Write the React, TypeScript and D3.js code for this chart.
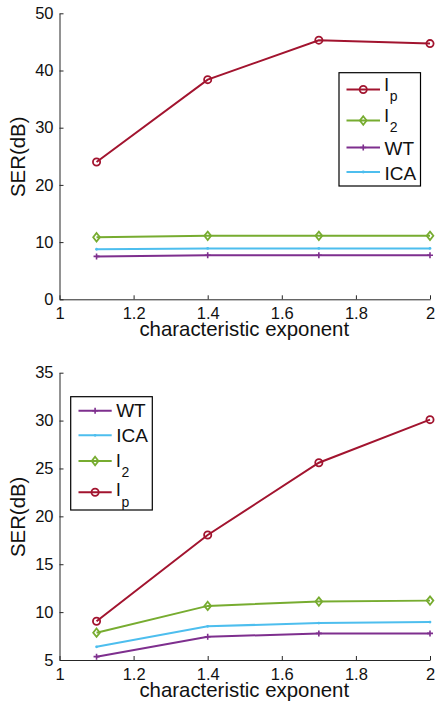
import React, { useRef, useEffect } from 'react';
import * as d3 from 'd3';

// characteristic exponent (x values)
const alphas = [1.1, 1.4, 1.7, 2];

// top panel
const topLp = [24.0, 38.4, 45.3, 44.7];
const topL2 = [10.85, 11.1, 11.1, 11.1];
const topWT = [7.5, 7.7, 7.7, 7.7];
const topICA = [8.75, 8.9, 8.9, 8.9];

// bottom panel
const botLp = [9.05, 18.05, 25.6, 30.1];
const botL2 = [7.85, 10.65, 11.1, 11.2];
const botWT = [5.35, 7.42, 7.78, 7.78];
const botICA = [6.38, 8.52, 8.86, 8.96];

const xTicks = [1, 1.2, 1.4, 1.6, 1.8, 2];
const topYTicks = [0, 10, 20, 30, 40, 50];
const botYTicks = [5, 10, 15, 20, 25, 30, 35];

const FONT = '"Liberation Sans", Arial, Helvetica, sans-serif';
const COLORS = { lp: '#a2142f', l2: '#77ac30', wt: '#7e2f8e', ica: '#4dbeee' };

type Series = { key: 'lp' | 'l2' | 'wt' | 'ica'; name: string; sub?: string; values: number[] };

function drawMarker(g, key, cx, cy) {
  const c = COLORS[key];
  if (key === 'lp') {
    g.append('circle').attr('cx', cx).attr('cy', cy).attr('r', 3.6)
      .attr('fill', 'none').attr('stroke', c).attr('stroke-width', 1.8);
  } else if (key === 'l2') {
    const s = 4.2;
    g.append('path')
      .attr('d', `M${cx},${cy - s}L${cx + s * 0.8},${cy}L${cx},${cy + s}L${cx - s * 0.8},${cy}Z`)
      .attr('fill', 'none').attr('stroke', c).attr('stroke-width', 1.8);
  } else if (key === 'wt') {
    const s = 3;
    g.append('path')
      .attr('d', `M${cx - s},${cy}H${cx + s}M${cx},${cy - s}V${cy + s}`)
      .attr('stroke', c).attr('stroke-width', 1.6);
  } else {
    g.append('circle').attr('cx', cx).attr('cy', cy).attr('r', 1.4).attr('fill', c);
  }
}

function drawPanel(svg, opts) {
  const { top, bottom, yDomain, yTicks, series, legend } = opts;
  const left = 59.5, right = 430;
  const x = d3.scaleLinear().domain([1, 2]).range([left, right]);
  const y = d3.scaleLinear().domain(yDomain).range([bottom, top]);

  const g = svg.append('g');

  const xAxis = g.append('g')
    .attr('transform', `translate(0,${bottom})`)
    .call(d3.axisBottom(x).tickValues(xTicks).tickSizeInner(-4).tickSizeOuter(0).tickPadding(7.8).tickFormat(d => String(d)));
  const yAxis = g.append('g')
    .attr('transform', `translate(${left},0)`)
    .call(d3.axisLeft(y).tickValues(yTicks).tickSizeInner(-4).tickSizeOuter(0).tickPadding(6).tickFormat(d => String(d)));

  [xAxis, yAxis].forEach(a => {
    a.select('.domain').attr('stroke', '#262626').attr('stroke-width', 1);
    a.selectAll('.tick line').attr('stroke', '#262626');
    a.selectAll('text').attr('font-family', FONT).attr('font-size', 16.5).attr('fill', '#111');
  });
  xAxis.selectAll('text').attr('dy', '0.72em');

  g.append('text')
    .attr('x', (left + right) / 2 - 0.5).attr('y', bottom + 36.5)
    .attr('text-anchor', 'middle').attr('font-family', FONT).attr('font-size', 20.4).attr('fill', '#111')
    .text('characteristic exponent');

  g.append('text')
    .attr('transform', `translate(25,${(top + bottom) / 2 + 0.5}) rotate(-90)`)
    .attr('text-anchor', 'middle').attr('font-family', FONT).attr('font-size', 20.4).attr('fill', '#111')
    .text('SER(dB)');

  const line = d3.line<number>().x((d, i) => x(alphas[i])).y(d => y(d));

  series.forEach((s: Series) => {
    g.append('path').attr('d', line(s.values)).attr('fill', 'none')
      .attr('stroke', COLORS[s.key]).attr('stroke-width', 2);
    s.values.forEach((v, i) => drawMarker(g, s.key, x(alphas[i]), y(v)));
  });

  // legend
  const lg = g.append('g');
  lg.append('rect')
    .attr('x', legend.x0).attr('y', legend.y0)
    .attr('width', legend.x1 - legend.x0).attr('height', legend.y1 - legend.y0)
    .attr('fill', 'white').attr('stroke', '#000').attr('stroke-width', 1.2);
  legend.items.forEach((s: Series, i) => {
    const ly = legend.rows[i];
    lg.append('line').attr('x1', legend.lx0).attr('x2', legend.lx1).attr('y1', ly).attr('y2', ly)
      .attr('stroke', COLORS[s.key]).attr('stroke-width', 2);
    drawMarker(lg, s.key, (legend.lx0 + legend.lx1) / 2, ly);
    const t = lg.append('text').attr('x', legend.lx1 + 4.5).attr('y', legend.baselines[i])
      .attr('font-family', FONT).attr('font-size', 19).attr('fill', '#111');
    t.append('tspan').text(s.name);
    if (s.sub) {
      t.append('tspan').attr('dy', 10.5).attr('dx', 1).attr('font-size', 14).text(s.sub);
    }
  });
}

export default function App() {
  const ref = useRef<SVGSVGElement>(null);

  useEffect(() => {
    const svg = d3.select(ref.current);
    svg.selectAll('*').remove();

    const lp = (v): Series => ({ key: 'lp', name: 'l', sub: 'p', values: v });
    const l2 = (v): Series => ({ key: 'l2', name: 'l', sub: '2', values: v });
    const wt = (v): Series => ({ key: 'wt', name: 'WT', values: v });
    const ica = (v): Series => ({ key: 'ica', name: 'ICA', values: v });

    const topSeries = [lp(topLp), l2(topL2), wt(topWT), ica(topICA)];
    drawPanel(svg, {
      top: 13.3, bottom: 299.3, yDomain: [0, 50], yTicks: topYTicks,
      series: topSeries,
      legend: {
        x0: 339, x1: 420.5, y0: 72.7, y1: 186, lx0: 346.5, lx1: 380,
        rows: [89.5, 120.5, 147.5, 172], baselines: [90.7, 121.7, 155, 180], items: topSeries
      }
    });

    const botSeries = [wt(botWT), ica(botICA), l2(botL2), lp(botLp)];
    drawPanel(svg, {
      top: 372.7, bottom: 660, yDomain: [5, 35], yTicks: botYTicks,
      series: botSeries,
      legend: {
        x0: 70.7, x1: 152.3, y0: 396.7, y1: 510, lx0: 78.5, lx1: 111.7,
        rows: [410.7, 435.3, 461, 492.3], baselines: [416.7, 441.7, 466.7, 496], items: botSeries
      }
    });
  }, []);

  return (
    <svg ref={ref} width={437} height={706} viewBox="0 0 437 706"
      style={{ position: 'absolute', left: 0, top: 0, background: 'white' }}
      role="img" aria-label="SER vs characteristic exponent" />
  );
}
